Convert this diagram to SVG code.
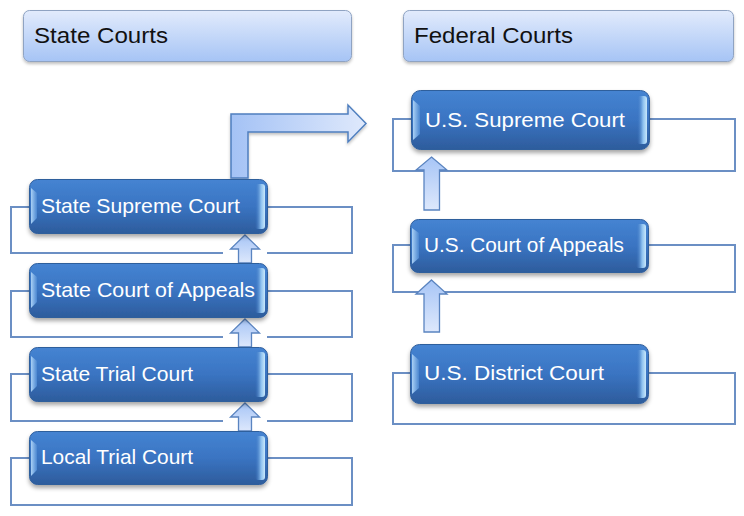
<svg xmlns="http://www.w3.org/2000/svg" width="744" height="516" viewBox="0 0 744 516">
<defs>
  <linearGradient id="hdr" x1="0" y1="0" x2="0" y2="1">
    <stop offset="0" stop-color="#e2ebfc"/>
    <stop offset="1" stop-color="#a6c4f5"/>
  </linearGradient>
  <linearGradient id="node" x1="0" y1="0" x2="0" y2="1">
    <stop offset="0" stop-color="#4584d2"/>
    <stop offset="0.5" stop-color="#3a74c2"/>
    <stop offset="1" stop-color="#2d5c9c"/>
  </linearGradient>
  <linearGradient id="hiR" x1="0" y1="0" x2="1" y2="0">
    <stop offset="0" stop-color="#3a74c2" stop-opacity="0"/>
    <stop offset="0.6" stop-color="#8cc0ef"/>
    <stop offset="1" stop-color="#c8e8fb"/>
  </linearGradient>
  <linearGradient id="hiL" x1="0" y1="0" x2="1" y2="0">
    <stop offset="0" stop-color="#a9d0f5"/>
    <stop offset="1" stop-color="#4a86d0"/>
  </linearGradient>
  <linearGradient id="upArr" x1="0" y1="0" x2="0" y2="1">
    <stop offset="0" stop-color="#a7c5f6"/>
    <stop offset="1" stop-color="#dde8fc"/>
  </linearGradient>
  <linearGradient id="bent" x1="0" y1="0" x2="1" y2="0">
    <stop offset="0" stop-color="#a4c2f5"/>
    <stop offset="1" stop-color="#dfe9fc"/>
  </linearGradient>
  <filter id="sh" x="-10%" y="-20%" width="120%" height="160%">
    <feDropShadow dx="0" dy="3" stdDeviation="2" flood-color="#000" flood-opacity="0.35"/>
  </filter>
  <filter id="shs" x="-10%" y="-20%" width="120%" height="160%">
    <feDropShadow dx="0" dy="2" stdDeviation="1.5" flood-color="#000" flood-opacity="0.25"/>
  </filter>
</defs>
<style>
  .hdr { fill: url(#hdr); stroke: #8fa3c2; stroke-width: 1; filter: url(#shs); }
  .htxt { font-family: "Liberation Sans", Arial, sans-serif; font-size: 22px; fill: #111; }
  .box { fill: #fff; stroke: #6b8fc4; stroke-width: 2; }
  .nd { fill: url(#node); stroke: #2f5e9c; stroke-width: 1; filter: url(#sh); }
  .hr { fill: url(#hiR); }
  .hl { fill: url(#hiL); }
  .ntxt { font-family: "Liberation Sans", Arial, sans-serif; font-size: 21px; fill: #fff; }
  .arr { fill: url(#upArr); stroke: #5a84c0; stroke-width: 1.3; }
  .bent { fill: url(#bent); stroke: #4f7fbf; stroke-width: 1.5; filter: url(#shs); }
</style>

<g id="hdr-state">
  <rect class="hdr" x="23.5" y="10.5" width="328" height="51" rx="6"/>
  <text class="htxt" x="34" y="43" textLength="134" lengthAdjust="spacingAndGlyphs">State Courts</text>
</g>
<g id="hdr-federal">
  <rect class="hdr" x="403.5" y="10.5" width="330" height="51" rx="6"/>
  <text class="htxt" x="414" y="43" textLength="159" lengthAdjust="spacingAndGlyphs">Federal Courts</text>
</g>

<!-- outline boxes -->
<g id="boxes">
  <rect class="box" x="11" y="207" width="341" height="46"/>
  <rect class="box" x="11" y="291" width="341" height="46"/>
  <rect class="box" x="11" y="374" width="341" height="47"/>
  <rect class="box" x="11" y="458" width="341" height="47"/>
  <rect class="box" x="393" y="119" width="342" height="52"/>
  <rect class="box" x="393" y="245" width="342" height="47"/>
  <rect class="box" x="393" y="373" width="342" height="51"/>
</g>

<g id="connectors">
  <rect x="223" y="234" width="44" height="28" fill="#fff"/>
  <polygon class="arr" points="245,235 259.5,249 251.5,249 251.5,263 238.5,263 238.5,249 230.5,249"/>
  <rect x="223" y="318" width="44" height="28" fill="#fff"/>
  <polygon class="arr" points="245,319 259.5,333 251.5,333 251.5,347 238.5,347 238.5,333 230.5,333"/>
  <rect x="223" y="402" width="44" height="28" fill="#fff"/>
  <polygon class="arr" points="245,403 259.5,417 251.5,417 251.5,431 238.5,431 238.5,417 230.5,417"/>
  <polygon class="arr" points="431.5,157 447,170 439.5,170 439.5,210 424,210 424,170 416,170"/>
  <polygon class="arr" points="431.5,280 447,294 439.5,294 439.5,332 424,332 424,294 416,294"/>
  <path class="bent" d="M231,178 L231,114 L348,114 L348,105 L366,123.5 L348,142 L348,132 L248,132 L248,178 Z"/>
</g>

<g id="n-state-supreme">
  <rect class="nd" x="29.5" y="179.5" width="238" height="54" rx="8"/>
  <rect class="hr" x="255" y="184" width="10" height="45" rx="3"/>
  <polygon class="hl" points="31,188 37,193 37,218 31,224"/>
  <text class="ntxt" x="41" y="213" textLength="199" lengthAdjust="spacingAndGlyphs">State Supreme Court</text>
</g>
<g id="n-state-appeals">
  <rect class="nd" x="29.5" y="263.5" width="238" height="54" rx="8"/>
  <rect class="hr" x="255" y="268" width="10" height="45" rx="3"/>
  <polygon class="hl" points="31,272 37,277 37,302 31,308"/>
  <text class="ntxt" x="41" y="297" textLength="214" lengthAdjust="spacingAndGlyphs">State Court of Appeals</text>
</g>
<g id="n-state-trial">
  <rect class="nd" x="29.5" y="347.5" width="238" height="54" rx="8"/>
  <rect class="hr" x="255" y="352" width="10" height="45" rx="3"/>
  <polygon class="hl" points="31,356 37,361 37,386 31,392"/>
  <text class="ntxt" x="41" y="381" textLength="152" lengthAdjust="spacingAndGlyphs">State Trial Court</text>
</g>
<g id="n-local-trial">
  <rect class="nd" x="29.5" y="431.5" width="238" height="53" rx="8"/>
  <rect class="hr" x="255" y="436" width="10" height="44" rx="3"/>
  <polygon class="hl" points="31,440 37,445 37,470 31,476"/>
  <text class="ntxt" x="41" y="464" textLength="152" lengthAdjust="spacingAndGlyphs">Local Trial Court</text>
</g>

<g id="n-us-supreme">
  <rect class="nd" x="411.5" y="90.5" width="238" height="59" rx="9"/>
  <rect class="hr" x="637" y="96" width="10" height="48" rx="3"/>
  <polygon class="hl" points="413,100 420,106 420,134 413,140"/>
  <text class="ntxt" x="425" y="127" textLength="200" lengthAdjust="spacingAndGlyphs">U.S. Supreme Court</text>
</g>
<g id="n-us-appeals">
  <rect class="nd" x="410.5" y="219.5" width="238" height="53" rx="8"/>
  <rect class="hr" x="636" y="224" width="10" height="44" rx="3"/>
  <polygon class="hl" points="412,228 419,233 419,258 412,264"/>
  <text class="ntxt" x="424" y="252" textLength="200" lengthAdjust="spacingAndGlyphs">U.S. Court of Appeals</text>
</g>
<g id="n-us-district">
  <rect class="nd" x="410.5" y="344.5" width="238" height="59" rx="9"/>
  <rect class="hr" x="636" y="350" width="10" height="48" rx="3"/>
  <polygon class="hl" points="412,354 419,360 419,388 412,394"/>
  <text class="ntxt" x="424" y="380" textLength="180" lengthAdjust="spacingAndGlyphs">U.S. District Court</text>
</g>
</svg>
